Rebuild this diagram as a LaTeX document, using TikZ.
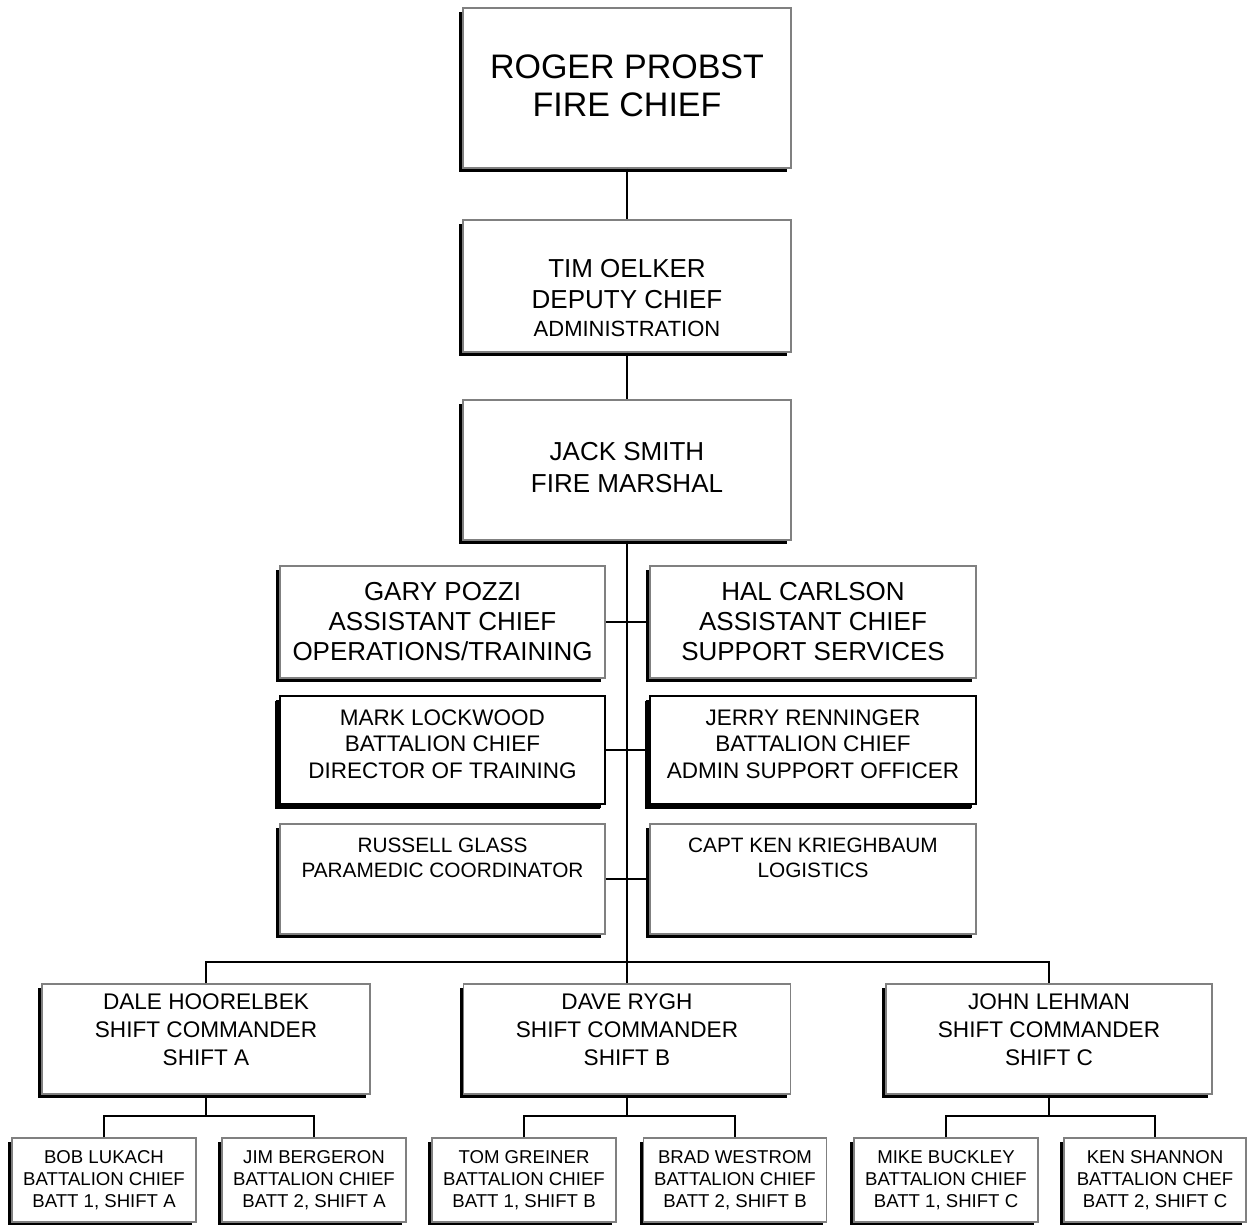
\documentclass[tikz,border=0pt]{standalone}
\usepackage{fontspec}
\setmainfont{Liberation Sans}
\usetikzlibrary{shadows}
\definecolor{boxgray}{gray}{0.5}
\newcommand{\fs}[2]{\fontsize{#1pt}{#2pt}\selectfont}
\tikzset{
  orgbox/.style={draw=boxgray, line width=1.3pt, fill=white, inner sep=0pt,
    drop shadow={shadow xshift=-4pt, shadow yshift=-4pt, fill=black, opacity=1}},
  darkbox/.style={orgbox, draw=black, line width=1.5pt,
    drop shadow={shadow xshift=-5pt, shadow yshift=-5pt, fill=black, opacity=1}},
  txt/.style={align=center, inner sep=0pt},
  link/.style={line width=1.5pt, black}
}
\begin{document}
\begin{tikzpicture}[x=1pt, y=-1pt]
\useasboundingbox (0,0) rectangle (1249,1224);
% boxes
\node[orgbox, minimum width=328pt, minimum height=160pt] (roger) at (627,88) {};
\node[orgbox, minimum width=328pt, minimum height=132pt] (tim) at (627,286) {};
\node[orgbox, minimum width=328pt, minimum height=140pt] (jack) at (627,470) {};
\node[orgbox, minimum width=325pt, minimum height=112pt] (gary) at (442.5,622) {};
\node[orgbox, minimum width=326pt, minimum height=112pt] (hal) at (813,622) {};
\node[darkbox, minimum width=325pt, minimum height=108pt] (mark) at (442.5,750) {};
\node[darkbox, minimum width=326pt, minimum height=108pt] (jerry) at (813,750) {};
\node[orgbox, minimum width=325pt, minimum height=110pt] (russell) at (442.5,879) {};
\node[orgbox, minimum width=326pt, minimum height=110pt] (capt) at (813,879) {};
\node[orgbox, minimum width=328pt, minimum height=110pt] (dale) at (206,1039) {};
\node[orgbox, minimum width=327pt, minimum height=110pt] (dave) at (627,1039) {};
\node[orgbox, minimum width=326pt, minimum height=110pt] (john) at (1049,1039) {};
\node[orgbox, minimum width=184pt, minimum height=84pt] (bob) at (104,1180) {};
\node[orgbox, minimum width=184pt, minimum height=84pt] (jim) at (314,1180) {};
\node[orgbox, minimum width=184pt, minimum height=84pt] (tom) at (524,1180) {};
\node[orgbox, minimum width=183pt, minimum height=84pt] (brad) at (735,1180) {};
\node[orgbox, minimum width=184pt, minimum height=84pt] (mike) at (946,1180) {};
\node[orgbox, minimum width=182pt, minimum height=84pt] (ken) at (1155,1180) {};
% texts
\node[txt, font=\fs{34}{38}] (rogerT) at ([yshift=2pt]roger.center) {ROGER PROBST\\FIRE CHIEF};
\node[txt, font=\fs{26}{31}] (timT) at ([yshift=-12pt]tim.center) {TIM OELKER\\DEPUTY CHIEF\\[-3pt]{\fs{22}{28}ADMINISTRATION}};
\node[txt, font=\fs{26}{32}] (jackT) at ([yshift=2pt]jack.center) {JACK SMITH\\FIRE MARSHAL};
\node[txt, font=\fs{26}{30}] (garyT) at (gary.center) {GARY POZZI\\ASSISTANT CHIEF\\OPERATIONS/TRAINING};
\node[txt, font=\fs{26}{30}] (halT) at (hal.center) {HAL CARLSON\\ASSISTANT CHIEF\\SUPPORT SERVICES};
\node[txt, font=\fs{22.5}{26.5}] (markT) at ([yshift=6pt]mark.center) {MARK LOCKWOOD\\BATTALION CHIEF\\DIRECTOR OF TRAINING};
\node[txt, font=\fs{22.5}{26.5}] (jerryT) at ([yshift=6pt]jerry.center) {JERRY RENNINGER\\BATTALION CHIEF\\ADMIN SUPPORT OFFICER};
\node[txt, font=\fs{20.8}{25}] (russellT) at ([yshift=21pt]russell.center) {RUSSELL GLASS\\PARAMEDIC COORDINATOR};
\node[txt, font=\fs{20.8}{25}] (captT) at ([yshift=21pt]capt.center) {CAPT KEN KRIEGHBAUM\\LOGISTICS};
\node[txt, font=\fs{22.6}{28}] (daleT) at ([yshift=9pt]dale.center) {DALE HOORELBEK\\SHIFT COMMANDER\\SHIFT A};
\node[txt, font=\fs{22.6}{28}] (daveT) at ([yshift=9pt]dave.center) {DAVE RYGH\\SHIFT COMMANDER\\SHIFT B};
\node[txt, font=\fs{22.6}{28}] (johnT) at ([yshift=9pt]john.center) {JOHN LEHMAN\\SHIFT COMMANDER\\SHIFT C};
\node[txt, font=\fs{18.6}{22}] (bobT) at (bob.center) {BOB LUKACH\\BATTALION CHIEF\\BATT 1, SHIFT A};
\node[txt, font=\fs{18.6}{22}] (jimT) at (jim.center) {JIM BERGERON\\BATTALION CHIEF\\BATT 2, SHIFT A};
\node[txt, font=\fs{18.6}{22}] (tomT) at (tom.center) {TOM GREINER\\BATTALION CHIEF\\BATT 1, SHIFT B};
\node[txt, font=\fs{18.6}{22}] (bradT) at (brad.center) {BRAD WESTROM\\BATTALION CHIEF\\BATT 2, SHIFT B};
\node[txt, font=\fs{18.6}{22}] (mikeT) at (mike.center) {MIKE BUCKLEY\\BATTALION CHIEF\\BATT 1, SHIFT C};
\node[txt, font=\fs{18.6}{22}] (kenT) at (ken.center) {KEN SHANNON\\BATTALION CHEF\\BATT 2, SHIFT C};
% connectors
\coordinate (bus) at (627,962);
\coordinate (subA) at (206,1116);
\coordinate (subB) at (627,1116);
\coordinate (subC) at (1049,1116);
\draw[link] (roger.south) -- (tim.north);
\draw[link] (tim.south) -- (jack.north);
\draw[link] (jack.south) -- (bus);
\draw[link] (gary.east) -- (hal.west);
\draw[link] (mark.east) -- (jerry.west);
\draw[link] (russell.east) -- (capt.west);
\draw[link] (dale.north) -- (dale.north |- bus) -- (john.north |- bus) -- (john.north);
\draw[link] (dave.north) -- (dave.north |- bus);
\draw[link] (dale.south) -- (subA);
\draw[link] (bob.north) -- (bob.north |- subA) -- (jim.north |- subA) -- (jim.north);
\draw[link] (dave.south) -- (subB);
\draw[link] (tom.north) -- (tom.north |- subB) -- (brad.north |- subB) -- (brad.north);
\draw[link] (john.south) -- (subC);
\draw[link] (mike.north) -- (mike.north |- subC) -- (ken.north |- subC) -- (ken.north);
\end{tikzpicture}
\end{document}
